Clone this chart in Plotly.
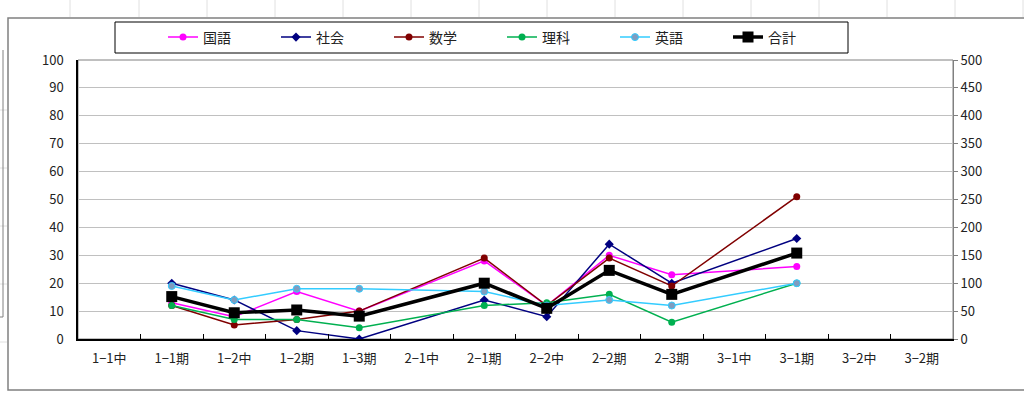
import plotly.graph_objects as go

categories = ["1−1中", "1−1期", "1−2中", "1−2期", "1−3期", "2−1中", "2−1期",
              "2−2中", "2−2期", "2−3期", "3−1中", "3−1期", "3−2中", "3−2期"]

kokugo = [None, 13, 8, 17, 10, None, 28, 12, 30, 23, None, 26, None, None]
shakai = [None, 20, 14, 3, 0, None, 14, 8, 34, 20, None, 36, None, None]
sugaku = [None, 12, 5, 7, 10, None, 29, 12, 29, 19, None, 51, None, None]
rika = [None, 12, 7, 7, 4, None, 12, 13, 16, 6, None, 20, None, None]
eigo = [None, 19, 14, 18, 18, None, 17, 12, 14, 12, None, 20, None, None]
goukei = [None, 76, 47, 52, 41, None, 100, 55, 123, 80, None, 154, None, None]

left_ticks = list(range(0, 101, 10))
right_ticks = list(range(0, 501, 50))

series = [
    ("国語", kokugo, "#FF00FF", "#FF00FF", "circle", 7),
    ("社会", shakai, "#000080", "#000080", "diamond", 7),
    ("数学", sugaku, "#800000", "#800000", "circle", 7),
    ("理科", rika, "#00B050", "#00B050", "circle", 7),
    ("英語", eigo, "#33CCFF", "#7F9CBF", "circle", 7),
]

fig = go.Figure()
for name, vals, lc, mc, sym, ms in series:
    fig.add_trace(go.Scatter(
        x=categories, y=vals, name=name, mode="lines+markers",
        connectgaps=True,
        line=dict(color=lc, width=1.5),
        marker=dict(color=mc, symbol=sym, size=ms,
                    line=dict(color=lc, width=1 if name == "英語" else 0)),
    ))

fig.add_trace(go.Scatter(
    x=categories, y=goukei, name="合計", mode="lines+markers",
    connectgaps=True, yaxis="y2",
    line=dict(color="#000000", width=3.5),
    marker=dict(color="#000000", symbol="square", size=11),
))

L, R, T, B = 78, 71, 60, 56
PW, PH = 1024 - L - R, 395 - T - B

def px(x):
    return (x - L) / PW

def py(y):
    return (395 - B - y) / PH

shapes = []
# sheet gridlines behind chart
for gx in [70, 139, 207, 275, 343, 411, 479, 547, 615, 683, 751, 819, 887, 955, 1023]:
    shapes.append(dict(type="line", xref="paper", yref="paper",
                       x0=px(gx), x1=px(gx), y0=py(0), y1=py(17),
                       line=dict(color="#E0E0E0", width=1), layer="below"))
for gy in [110, 168, 226, 284, 342]:
    shapes.append(dict(type="line", xref="paper", yref="paper",
                       x0=px(0), x1=px(7), y0=py(gy), y1=py(gy),
                       line=dict(color="#E0E0E0", width=1), layer="below"))
shapes.append(dict(type="line", xref="paper", yref="paper",
                   x0=px(3), x1=px(3), y0=py(50), y1=py(317),
                   line=dict(color="#808080", width=1), layer="below"))
shapes.append(dict(type="line", xref="paper", yref="paper",
                   x0=px(0), x1=px(3), y0=py(317), y1=py(317),
                   line=dict(color="#808080", width=1), layer="below"))
# chart outer border
shapes.append(dict(type="rect", xref="paper", yref="paper",
                   x0=px(8), x1=px(1030), y0=py(390), y1=py(18),
                   line=dict(color="#808080", width=1.5),
                   fillcolor="white", layer="below"))
# plot area border (top/right)
shapes.append(dict(type="rect", xref="paper", yref="paper",
                   x0=0, x1=1, y0=0, y1=1,
                   line=dict(color="#808080", width=1), layer="below"))
# legend box
shapes.append(dict(type="rect", xref="paper", yref="paper",
                   x0=px(115), x1=px(848), y0=py(53), y1=py(22),
                   line=dict(color="#000000", width=1), fillcolor="white",
                   layer="below"))

fig.update_layout(
    width=1024, height=395,
    margin=dict(l=L, r=R, t=T, b=B, autoexpand=False),
    paper_bgcolor="white", plot_bgcolor="rgba(0,0,0,0)",
    font=dict(family="Noto Sans CJK JP", size=13, color="#222222"),
    showlegend=True,
    legend=dict(orientation="h", x=px(163), y=py(37.5), xanchor="left",
                yanchor="middle", bgcolor="rgba(0,0,0,0)", borderwidth=0,
                entrywidth=68, entrywidthmode="pixels",
                font=dict(size=14, color="#222222"), itemwidth=30),
    xaxis=dict(
        categoryorder="array", categoryarray=categories, type="category",
        range=[-0.5, len(categories) - 0.5],
        showline=True, linecolor="#000000", linewidth=1.5,
        ticks="inside", tickson="boundaries", ticklen=5, tickcolor="#000000",
        showgrid=False, tickfont=dict(size=13, color="#222222"),
        ticklabelstandoff=7,
    ),
    yaxis=dict(
        range=[0, 100], tickvals=left_ticks, showline=True,
        linecolor="#000000", linewidth=1.5, showgrid=True,
        gridcolor="#C0C0C0", gridwidth=1, zeroline=False,
        ticks="", tickfont=dict(size=13, color="#222222"),
        ticklabelstandoff=10,
    ),
    yaxis2=dict(
        range=[0, 500], tickvals=right_ticks, overlaying="y", side="right",
        showline=True, linecolor="#808080", linewidth=1, showgrid=False,
        zeroline=False, ticks="outside", ticklen=4, tickcolor="#808080",
        tickfont=dict(size=13, color="#222222"),
    ),
    shapes=shapes,
)

fig.write_html("out.html", config={"displayModeBar": False},
               post_script="document.body.style.margin='0px';document.body.style.padding='0px';")
